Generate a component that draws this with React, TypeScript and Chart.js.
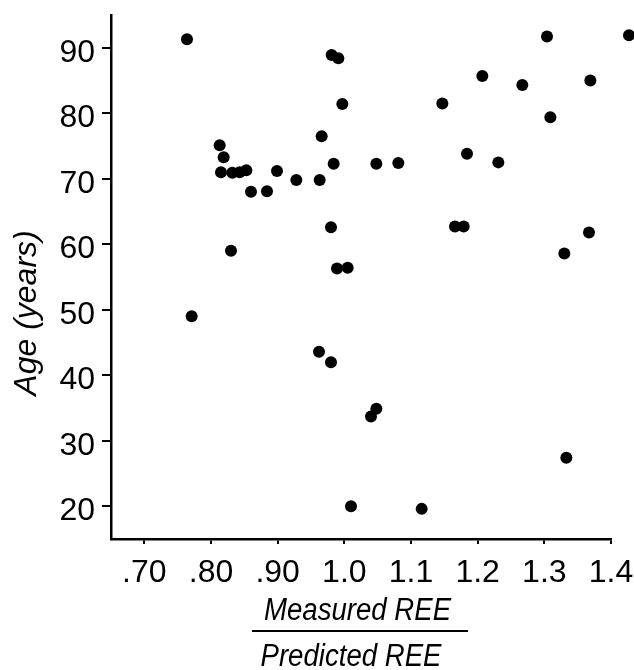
import React, { useEffect, useRef } from "react";
import { Chart, registerables } from "chart.js";

Chart.register(...registerables);

// Measured REE / Predicted REE ratio for each subject
const ratio = [
  0.764, 0.771, 0.813, 0.819, 0.815, 0.832, 0.843, 0.853, 0.83, 0.86, 0.884,
  0.899, 0.928, 0.963, 0.966, 0.984, 0.98, 0.981, 0.991, 0.997, 0.989, 1.005,
  0.962, 0.98, 1.04, 1.048, 1.01, 1.048, 1.081, 1.116, 1.147, 1.166, 1.179,
  1.184, 1.207, 1.231, 1.267, 1.304, 1.309, 1.33, 1.333, 1.369, 1.367, 1.427,
];
// Age (years) for each subject
const age = [
  91.3, 49.0, 75.1, 73.3, 71.0, 70.9, 71.0, 71.3, 59.0, 68.0, 68.1, 71.2, 69.8,
  69.8, 76.5, 72.3, 62.6, 88.9, 88.4, 81.4, 56.3, 56.4, 43.6, 42.0, 33.7, 34.9,
  20.0, 72.3, 72.4, 19.6, 81.5, 62.7, 62.7, 73.8, 85.7, 72.5, 84.3, 91.7, 79.4,
  58.6, 27.4, 85.0, 61.8, 91.9,
];

const xTickValues = [0.7, 0.8, 0.9, 1.0, 1.1, 1.2, 1.3, 1.4];
const xTickLabels = [".70", ".80", ".90", "1.0", "1.1", "1.2", "1.3", "1.4"];
const yTickValues = [20, 30, 40, 50, 60, 70, 80, 90];

const yTitle = "Age (years)";
const xTitleTop = "Measured REE";
const xTitleBottom = "Predicted REE";

const FONT = "'Liberation Sans', Arial, sans-serif";

// Points that sit just beyond the axis end are still drawn (as in the original figure)
const outsidePointsPlugin = {
  id: "outsidePoints",
  afterDatasetsDraw(chart: any) {
    const area = chart.chartArea;
    const ctx = chart.ctx;
    chart.getDatasetMeta(0).data.forEach((el: any) => {
      const r = 6;
      const inside =
        el.x > area.left - r && el.x < area.right + r && el.y > area.top - r && el.y < area.bottom + r;
      if (!inside) el.draw(ctx);
    });
  },
};

const titlesPlugin = {
  id: "titles",
  afterDraw(chart: any) {
    const ctx = chart.ctx;
    const area = chart.chartArea;
    ctx.save();
    ctx.fillStyle = "#000";
    ctx.strokeStyle = "#000";

    // y title (rotated)
    ctx.save();
    ctx.translate(area.left - 75, (area.top + area.bottom) / 2 + 36);
    ctx.rotate(-Math.PI / 2);
    ctx.font = `italic 32px ${FONT}`;
    ctx.textAlign = "center";
    ctx.textBaseline = "alphabetic";
    ctx.fillText(yTitle, 0, 0);
    ctx.restore();

    // x title as a fraction
    const cx = (area.left + area.right) / 2;
    const drawScaled = (text: string, x: number, y: number) => {
      ctx.save();
      ctx.translate(x, y);
      ctx.scale(0.89, 1);
      ctx.font = `italic 31px ${FONT}`;
      ctx.textAlign = "center";
      ctx.textBaseline = "alphabetic";
      ctx.fillText(text, 0, 0);
      ctx.restore();
    };
    drawScaled(xTitleTop, cx - 3.5, area.bottom + 81);
    ctx.lineWidth = 2;
    ctx.beginPath();
    ctx.moveTo(cx - 109, area.bottom + 92);
    ctx.lineTo(cx + 107, area.bottom + 92);
    ctx.stroke();
    drawScaled(xTitleBottom, cx - 10, area.bottom + 127);

    ctx.restore();
  },
};

export default function App() {
  const ref = useRef<HTMLCanvasElement | null>(null);

  useEffect(() => {
    if (!ref.current) return;
    const points = ratio.map((r, i) => ({ x: r, y: age[i] }));
    const chart = new Chart(ref.current, {
      type: "scatter",
      data: {
        datasets: [
          {
            data: points,
            backgroundColor: "#000",
            borderColor: "#000",
            borderWidth: 0,
            pointRadius: 6,
            pointHoverRadius: 6,
            clip: false as any,
          },
        ],
      },
      options: {
        animation: false,
        responsive: false,
        events: [],
        layout: { padding: { top: 15, right: 23, left: 0, bottom: 0 } },
        plugins: {
          legend: { display: false },
          tooltip: { enabled: false },
          title: { display: false },
        },
        scales: {
          x: {
            type: "linear",
            min: 0.65,
            max: 1.4,
            afterBuildTicks: (scale: any) => {
              scale.ticks = xTickValues.map((value) => ({ value }));
            },
            afterFit: (scale: any) => {
              scale.height = 131;
              scale.paddingLeft = 0;
              scale.paddingRight = 0;
            },
            border: { display: true, color: "#000", width: 2.5 },
            grid: {
              display: true,
              drawOnChartArea: false,
              drawTicks: true,
              tickLength: 5,
              color: "#000",
              lineWidth: 2,
            },
            ticks: {
              autoSkip: false,
              maxRotation: 0,
              padding: 10,
              color: "#000",
              font: { family: FONT, size: 32 },
              callback: (_v: any, i: number) => xTickLabels[i],
            },
          },
          y: {
            type: "linear",
            min: 15,
            max: 95,
            afterBuildTicks: (scale: any) => {
              scale.ticks = yTickValues.map((value) => ({ value }));
            },
            afterFit: (scale: any) => {
              scale.width = 111;
              scale.paddingTop = 0;
              scale.paddingBottom = 0;
            },
            border: { display: true, color: "#000", width: 2.5 },
            grid: {
              display: true,
              drawOnChartArea: false,
              drawTicks: true,
              tickLength: 9,
              color: "#000",
              lineWidth: 2,
            },
            ticks: {
              autoSkip: false,
              padding: 7,
              labelOffset: 5,
              color: "#000",
              font: { family: FONT, size: 32 },
              callback: (v: any) => String(v),
            },
          },
        },
      },
      plugins: [outsidePointsPlugin, titlesPlugin],
    });
    return () => chart.destroy();
  }, []);

  return (
    <div style={{ position: "fixed", left: 0, top: 0, width: 634, height: 670, background: "#fff" }}>
      <canvas ref={ref} width={634} height={670} />
    </div>
  );
}
